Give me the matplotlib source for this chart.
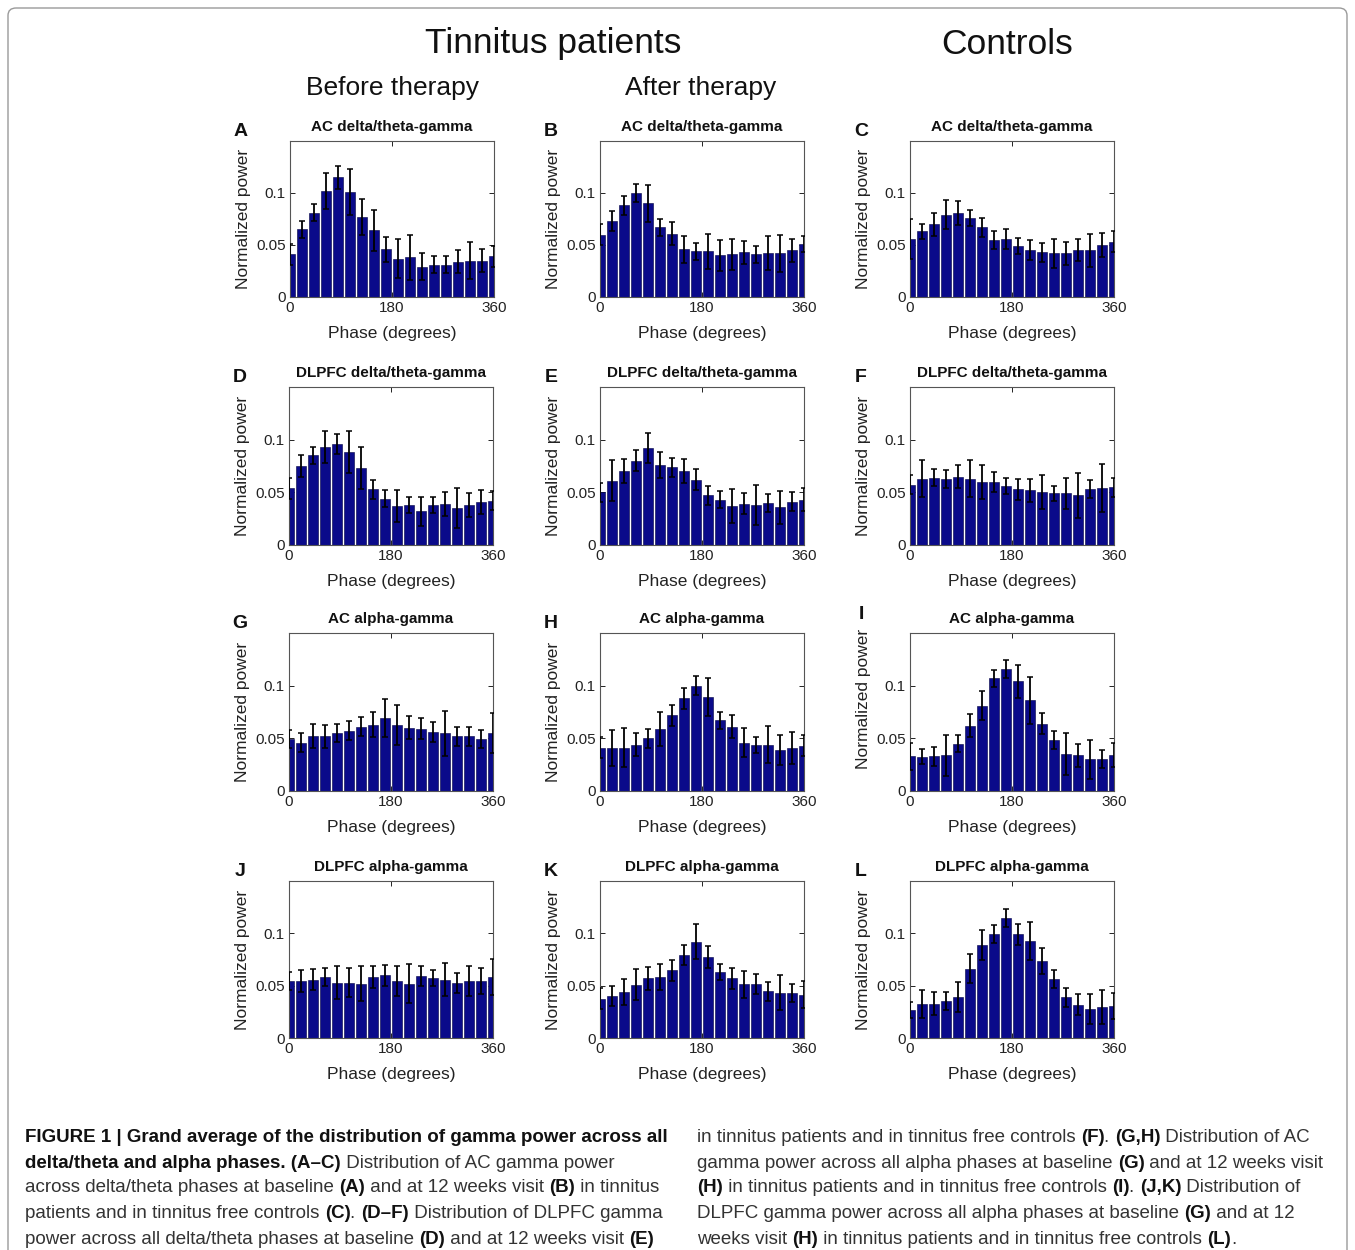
import numpy as np
import matplotlib
matplotlib.use("Agg")
import matplotlib.pyplot as plt
from matplotlib.patches import FancyBboxPatch

plt.rcParams['font.family'] = ['Liberation Sans', 'DejaVu Sans']

W, H = 1355, 1250

# ---------------- data ----------------
phase_ticks = [0, 180, 360]
phase_tick_labels = ["0", "180", "360"]
power_ticks = [0, 0.05, 0.1]
power_tick_labels = ["0", "0.05", "0.1"]
n_bins = 18

panel_letters = ["A", "B", "C", "D", "E", "F", "G", "H", "I", "J", "K", "L"]
panel_titles = ["AC delta/theta-gamma"] * 3 + ["DLPFC delta/theta-gamma"] * 3 + \
               ["AC alpha-gamma"] * 3 + ["DLPFC alpha-gamma"] * 3

A_mean = [0.041, 0.065, 0.081, 0.102, 0.115, 0.101, 0.077, 0.064, 0.046, 0.037, 0.038, 0.029, 0.031, 0.031, 0.034, 0.035, 0.035, 0.039]
A_err = [0.010, 0.008, 0.008, 0.017, 0.011, 0.022, 0.017, 0.020, 0.012, 0.019, 0.022, 0.013, 0.008, 0.008, 0.011, 0.018, 0.011, 0.010]
B_mean = [0.060, 0.073, 0.088, 0.100, 0.090, 0.067, 0.061, 0.046, 0.044, 0.044, 0.040, 0.041, 0.043, 0.041, 0.042, 0.042, 0.045, 0.051]
B_err = [0.010, 0.010, 0.0095, 0.0085, 0.018, 0.008, 0.011, 0.013, 0.008, 0.017, 0.015, 0.015, 0.011, 0.0085, 0.0165, 0.018, 0.011, 0.008]
C_mean = [0.056, 0.063, 0.070, 0.079, 0.081, 0.076, 0.067, 0.055, 0.056, 0.049, 0.045, 0.043, 0.042, 0.042, 0.045, 0.045, 0.050, 0.053]
C_err = [0.019, 0.0075, 0.011, 0.014, 0.0115, 0.0075, 0.009, 0.0085, 0.0095, 0.008, 0.0095, 0.009, 0.014, 0.011, 0.0105, 0.016, 0.0115, 0.010]
D_mean = [0.054, 0.075, 0.085, 0.093, 0.096, 0.088, 0.073, 0.053, 0.044, 0.037, 0.038, 0.032, 0.038, 0.039, 0.035, 0.038, 0.041, 0.042]
D_err = [0.010, 0.010, 0.008, 0.015, 0.0095, 0.020, 0.020, 0.009, 0.008, 0.015, 0.008, 0.014, 0.008, 0.011, 0.019, 0.011, 0.0115, 0.009]
E_mean = [0.050, 0.061, 0.070, 0.080, 0.092, 0.076, 0.074, 0.070, 0.062, 0.047, 0.043, 0.037, 0.039, 0.038, 0.040, 0.036, 0.041, 0.043]
E_err = [0.009, 0.0195, 0.0115, 0.010, 0.014, 0.012, 0.009, 0.0115, 0.0097, 0.009, 0.0083, 0.016, 0.010, 0.019, 0.0085, 0.0157, 0.009, 0.011]
F_mean = [0.057, 0.063, 0.064, 0.063, 0.065, 0.063, 0.060, 0.060, 0.056, 0.053, 0.052, 0.050, 0.049, 0.049, 0.047, 0.053, 0.054, 0.055]
F_err = [0.009, 0.0175, 0.008, 0.0086, 0.011, 0.0175, 0.016, 0.0095, 0.0073, 0.010, 0.011, 0.016, 0.0073, 0.0146, 0.0217, 0.0083, 0.023, 0.009]
G_mean = [0.049, 0.046, 0.052, 0.052, 0.055, 0.057, 0.061, 0.063, 0.069, 0.063, 0.060, 0.059, 0.056, 0.055, 0.052, 0.052, 0.049, 0.055]
G_err = [0.0086, 0.0086, 0.0115, 0.011, 0.0086, 0.009, 0.009, 0.012, 0.018, 0.019, 0.011, 0.010, 0.0095, 0.0213, 0.009, 0.009, 0.0086, 0.019]
H_mean = [0.041, 0.041, 0.041, 0.044, 0.050, 0.059, 0.072, 0.088, 0.100, 0.089, 0.067, 0.061, 0.046, 0.044, 0.044, 0.039, 0.041, 0.043]
H_err = [0.010, 0.0168, 0.0185, 0.011, 0.009, 0.016, 0.010, 0.0097, 0.009, 0.018, 0.008, 0.011, 0.0135, 0.0077, 0.0175, 0.0146, 0.015, 0.010]
I_mean = [0.033, 0.0325, 0.033, 0.034, 0.045, 0.062, 0.081, 0.107, 0.116, 0.104, 0.086, 0.064, 0.048, 0.035, 0.034, 0.030, 0.030, 0.034]
I_err = [0.0127, 0.0073, 0.009, 0.0195, 0.008, 0.011, 0.014, 0.008, 0.0083, 0.016, 0.022, 0.010, 0.0086, 0.0198, 0.011, 0.0185, 0.0086, 0.0115]
J_mean = [0.0545, 0.0545, 0.0555, 0.058, 0.053, 0.053, 0.052, 0.058, 0.060, 0.0545, 0.052, 0.0595, 0.057, 0.0557, 0.0527, 0.0545, 0.0545, 0.0585]
J_err = [0.0083, 0.0105, 0.010, 0.0087, 0.0155, 0.0135, 0.017, 0.0105, 0.010, 0.0145, 0.0187, 0.0096, 0.0075, 0.016, 0.0096, 0.0145, 0.0127, 0.0173]
K_mean = [0.0375, 0.0405, 0.0443, 0.051, 0.057, 0.058, 0.0645, 0.0795, 0.092, 0.077, 0.063, 0.057, 0.0514, 0.0517, 0.0446, 0.0433, 0.0433, 0.0414]
K_err = [0.010, 0.0096, 0.0125, 0.0145, 0.011, 0.0125, 0.010, 0.0096, 0.0167, 0.0105, 0.008, 0.010, 0.013, 0.0093, 0.0093, 0.0167, 0.0087, 0.013]
L_mean = [0.0266, 0.0324, 0.0327, 0.0356, 0.0394, 0.0663, 0.0885, 0.099, 0.1144, 0.099, 0.093, 0.0737, 0.0564, 0.0388, 0.032, 0.0279, 0.0298, 0.0304]
L_err = [0.0077, 0.0135, 0.011, 0.0087, 0.0145, 0.0138, 0.0144, 0.0086, 0.0086, 0.0103, 0.0183, 0.0127, 0.0087, 0.0093, 0.0103, 0.0143, 0.0163, 0.0125]

means = [A_mean, B_mean, C_mean, D_mean, E_mean, F_mean,
         G_mean, H_mean, I_mean, J_mean, K_mean, L_mean]
errs = [A_err, B_err, C_err, D_err, E_err, F_err,
        G_err, H_err, I_err, J_err, K_err, L_err]

column_headers = ["Tinnitus patients", "Controls"]
sub_headers = ["Before therapy", "After therapy"]

caption_left = [
    [("FIGURE 1 | Grand average of the distribution of gamma power across all", True)],
    [("delta/theta and alpha phases. (A–C)", True), (" Distribution of AC gamma power", False)],
    [("across delta/theta phases at baseline ", False), ("(A)", True), (" and at 12 weeks visit ", False), ("(B)", True), (" in tinnitus", False)],
    [("patients and in tinnitus free controls ", False), ("(C)", True), (". ", False), ("(D–F)", True), (" Distribution of DLPFC gamma", False)],
    [("power across all delta/theta phases at baseline ", False), ("(D)", True), (" and at 12 weeks visit ", False), ("(E)", True)],
]
caption_right = [
    [("in tinnitus patients and in tinnitus free controls ", False), ("(F)", True), (". ", False), ("(G,H)", True), (" Distribution of AC", False)],
    [("gamma power across all alpha phases at baseline ", False), ("(G)", True), (" and at 12 weeks visit", False)],
    [("(H)", True), (" in tinnitus patients and in tinnitus free controls ", False), ("(I)", True), (". ", False), ("(J,K)", True), (" Distribution of", False)],
    [("DLPFC gamma power across all alpha phases at baseline ", False), ("(G)", True), (" and at 12", False)],
    [("weeks visit ", False), ("(H)", True), (" in tinnitus patients and in tinnitus free controls ", False), ("(L)", True), (".", False)],
]

# ---------------- figure ----------------
fig = plt.figure(figsize=(W / 100, H / 100), dpi=100)
fig.patch.set_facecolor("white")

# outer rounded frame
frame = FancyBboxPatch((8 / W, -0.05), (1339) / W, (1 - 8 / H) + 0.05,
                       boxstyle="round,pad=0,rounding_size=0.006",
                       transform=fig.transFigure, fill=False,
                       edgecolor="#9a9a9a", linewidth=1.0)
fig.patches.append(frame)


def rect(left, top, right, bottom):
    return [left / W, 1 - bottom / H, (right - left) / W, (bottom - top) / H]


col_left = [289, 600, 910]
ax_w = 204
rows = [(141, 297), (387, 545), (633, 791), (881, 1038)]

centers = np.linspace(0, 360, n_bins)
spacing = 360 / (n_bins - 1)
bar_color = "#0a0a8a"

for idx in range(12):
    r, c = divmod(idx, 3)
    top, bottom = rows[r]
    left = col_left[c] + (1 if (r == 0 and c == 0) else 0)
    ax = fig.add_axes(rect(left, top, left + ax_w, bottom))
    ax.bar(centers, means[idx], width=0.86 * spacing, color=bar_color,
           edgecolor="#000040", linewidth=0.4, zorder=2)
    ax.errorbar(centers, means[idx], yerr=errs[idx], fmt="none",
                ecolor="black", elinewidth=1.3, capsize=2, capthick=1.1, zorder=3)
    ax.set_xlim(0, 360)
    ax.set_ylim(0, 0.15)
    ax.set_xticks(phase_ticks)
    ax.set_xticklabels(phase_tick_labels)
    ax.set_yticks(power_ticks)
    ax.set_yticklabels(power_tick_labels)
    ax.tick_params(direction="in", top=True, right=True, length=3.5,
                   width=0.7, labelsize=11, colors="#222222", pad=3)
    for s in ax.spines.values():
        s.set_color("#555555")
        s.set_linewidth(0.8)
    ax.set_xlabel("Phase (degrees)", fontsize=12.5, color="#222222")
    ax.xaxis.set_label_coords(0.5, -0.185)
    ax.set_ylabel("Normalized power", fontsize=12.5, color="#222222")
    ax.yaxis.set_label_coords(-0.19, 0.58 if idx == 8 else 0.5)
    ax.text(0.5, 1.09, panel_titles[idx], transform=ax.transAxes,
            ha="center", va="center", fontsize=11, fontweight="bold", color="#111111")
    ax.text(-0.24, 1.06 if idx != 8 else 1.12, panel_letters[idx], transform=ax.transAxes,
            ha="center", va="center", fontsize=14, fontweight="bold", color="#111111")

# headers
fig.text(553 / W, 1 - 44 / H, column_headers[0], ha="center", va="center", fontsize=25.5, color="#111111")
fig.text(1007 / W, 1 - 44 / H, column_headers[1], ha="center", va="center", fontsize=25.5, color="#111111")
fig.text(393 / W, 1 - 88 / H, sub_headers[0], ha="center", va="center", fontsize=19, color="#111111")
fig.text(701 / W, 1 - 88 / H, sub_headers[1], ha="center", va="center", fontsize=19, color="#111111")

# caption
renderer = fig.canvas.get_renderer()
cap_size = 13.5
line_y = [1135, 1160, 1185, 1210, 1236]


def draw_line(x0, y, segments):
    x = x0
    for txt, bold in segments:
        t = fig.text(x / W, 1 - y / H, txt, ha="left", va="center_baseline",
                     fontsize=cap_size, fontweight="bold" if bold else "normal",
                     color="#111111" if bold else "#333333")
        bb = t.get_window_extent(renderer=renderer)
        x += bb.width


for i, segs in enumerate(caption_left):
    draw_line(25, line_y[i] + 1, segs)
for i, segs in enumerate(caption_right):
    draw_line(697, line_y[i] + 1, segs)

fig.savefig("out.png", dpi=100, facecolor="white")
